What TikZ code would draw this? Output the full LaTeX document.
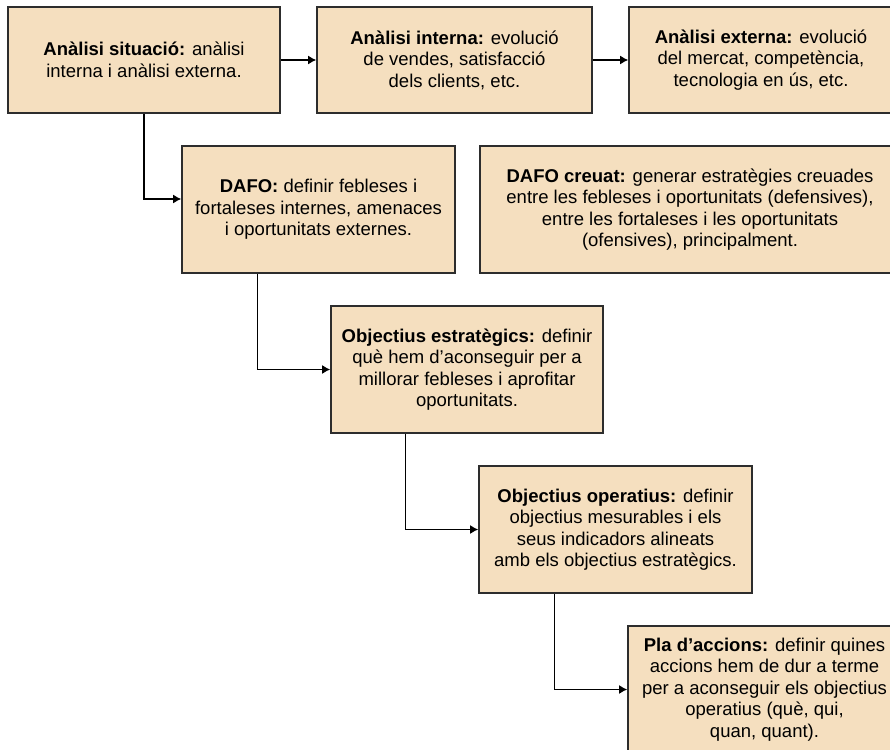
\documentclass[tikz,border=0pt]{standalone}
\usepackage{fontspec}
\setmainfont{Liberation Sans}
\usetikzlibrary{arrows.meta}
\definecolor{boxfill}{RGB}{245,223,191}
\definecolor{boxline}{RGB}{45,45,45}
\tikzset{
  stagebox/.style={draw=boxline, line width=1.6pt, fill=boxfill, rectangle,
    align=center, inner sep=0pt, minimum height=127pt,
    font=\fontsize{18.5}{21.5}\selectfont},
  flow/.style={draw=black, line width=1.4pt, -{Latex[length=8pt,width=9pt]}}
}
\begin{document}
\begin{tikzpicture}[x=1pt, y=-1pt]
\useasboundingbox (0,0) rectangle (890,749);
\clip (0,0) rectangle (890,749);
\fill[white] (0,0) rectangle (890,749);

% top row: situation analysis
\node[stagebox, minimum width=272pt, minimum height=106pt] (b1) at (144,60)
  {\textbf{Anàlisi situació:} anàlisi\\interna i anàlisi externa.};
\node[stagebox, minimum width=275pt, minimum height=106pt] (b2) at (454.5,60)
  {\textbf{Anàlisi interna:} evolució\\de vendes, satisfacció\\dels clients, etc.};
\node[stagebox, minimum width=264pt, minimum height=106pt] (b3) at (761,60)
  {\textbf{Anàlisi externa:} evolució\\del mercat, competència,\\tecnologia en ús, etc.};

% SWOT stage
\node[stagebox, minimum width=273pt] (b4) at (318.5,209.5)
  {\textbf{DAFO:} definir febleses i\\fortaleses internes, amenaces\\i oportunitats externes.};
\node[stagebox, minimum width=420pt] (b5) at (690,209.5)
  {\textbf{DAFO creuat:} generar estratègies creuades\\entre les febleses i oportunitats (defensives),\\entre les fortaleses i les oportunitats\\(ofensives), principalment.};

% objectives and action plan
\node[stagebox, minimum width=272pt] (b6) at (467,369.5)
  {\textbf{Objectius estratègics:} definir\\què hem d’aconseguir per a\\millorar febleses i aprofitar\\oportunitats.};
\node[stagebox, minimum width=273pt] (b7) at (615.5,529.5)
  {\textbf{Objectius operatius:} definir\\objectius mesurables i els\\seus indicadors alineats\\amb els objectius estratègics.};
\node[stagebox, minimum width=273pt] (b8) at (764.5,689.5)
  {\textbf{Pla d’accions:} definir quines\\accions hem de dur a terme\\per a aconseguir els objectius\\operatius (què, qui,\\quan, quant).};

% connectors
\draw[flow] (b1.east) -- (b2.west);
\draw[flow] (b2.east) -- (b3.west);
\draw[flow] (b1.south) |- ([yshift=10.5pt]b4.west);
\draw[flow] ([xshift=76pt]b4.south west) |- (b6.west);
\draw[flow] ([xshift=75pt]b6.south west) |- (b7.west);
\draw[flow] ([xshift=76pt]b7.south west) |- (b8.west);
\end{tikzpicture}
\end{document}
